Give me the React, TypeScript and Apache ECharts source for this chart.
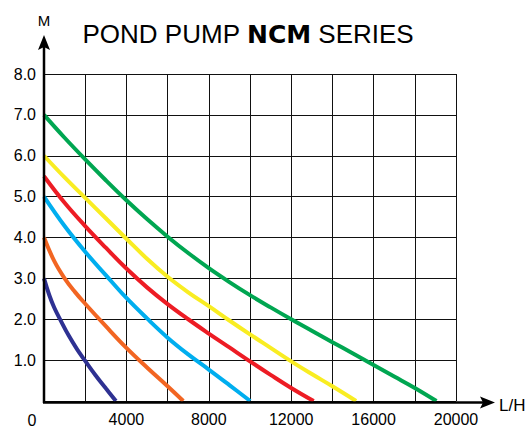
import React, { useEffect, useRef } from "react";
import * as echarts from "echarts";

const titleStart = "POND PUMP ";
const titleBold = "NCM";
const titleEnd = " SERIES";
const yName = "M";
const xName = "L/H";
const xZeroLabel = "0";

const navy: [number, number][] = [[0, 3.0], [250, 2.6], [500, 2.28], [800, 1.98], [1200, 1.6], [1600, 1.27], [2000, 0.98], [2500, 0.63], [3000, 0.31], [3490, 0]];
const orange: [number, number][] = [[0, 4.0], [500, 3.42], [1000, 3.0], [1500, 2.67], [2000, 2.38], [3000, 1.83], [4000, 1.3], [5000, 0.82], [6000, 0.36], [6760, 0]];
const blue: [number, number][] = [[0, 5.0], [1000, 4.28], [2000, 3.65], [3000, 3.08], [4000, 2.52], [5000, 2.02], [6000, 1.55], [7000, 1.14], [8000, 0.77], [9000, 0.39], [10010, 0]];
const red: [number, number][] = [[0, 5.5], [1000, 4.85], [2000, 4.28], [3000, 3.75], [4000, 3.24], [5000, 2.78], [6000, 2.37], [7000, 2.0], [8000, 1.65], [9000, 1.31], [10000, 0.97], [11000, 0.64], [12000, 0.32], [13090, 0]];
const yellow: [number, number][] = [[0, 6.0], [1000, 5.47], [2000, 4.97], [3000, 4.47], [4000, 3.97], [5000, 3.48], [6000, 3.04], [7000, 2.66], [8000, 2.32], [9000, 1.97], [10000, 1.63], [11000, 1.3], [12000, 0.97], [13000, 0.66], [14000, 0.36], [15150, 0]];
const green: [number, number][] = [[0, 7.0], [1000, 6.44], [2000, 5.91], [3000, 5.4], [4000, 4.91], [5000, 4.45], [6000, 4.02], [7000, 3.62], [8000, 3.25], [9000, 2.91], [10000, 2.59], [11000, 2.29], [12000, 2.0], [13000, 1.72], [14000, 1.44], [15000, 1.16], [16000, 0.88], [17000, 0.6], [18000, 0.32], [19050, 0]];

const seriesList = [
  { name: "navy", data: navy, color: "#2E3192" },
  { name: "orange", data: orange, color: "#F26522" },
  { name: "blue", data: blue, color: "#00AEEF" },
  { name: "red", data: red, color: "#ED1C24" },
  { name: "yellow", data: yellow, color: "#F9ED22" },
  { name: "green", data: green, color: "#00A651" },
];

const FONT = "'Liberation Sans', Arial, sans-serif";

export default function App() {
  const ref = useRef<HTMLDivElement>(null);
  useEffect(() => {
    if (!ref.current) return;
    const chart = echarts.init(ref.current, null, { renderer: "svg" });
    chart.setOption({
      animation: false,
      backgroundColor: "#fff",
      textStyle: { fontFamily: FONT },
      grid: { left: 44, right: 74, top: 74, bottom: 24 },
      xAxis: {
        type: "value",
        min: 0,
        max: 20000,
        interval: 2000,
        axisLine: { show: false },
        axisTick: { show: false },
        axisLabel: {
          color: "#000",
          fontSize: 16,
          fontFamily: FONT,
          margin: 10,
          showMaxLabel: true,
          formatter: (v: number) => (v === 0 || v % 4000 !== 0 ? "" : String(v)),
        },
        splitLine: { show: true, lineStyle: { color: "#111", width: 1 } },
      },
      yAxis: {
        type: "value",
        min: 0,
        max: 8,
        interval: 1,
        axisLine: { show: false },
        axisTick: { show: false },
        axisLabel: {
          color: "#000",
          fontSize: 16,
          fontFamily: FONT,
          margin: 8,
          formatter: (v: number) => (v === 0 ? "" : v.toFixed(1)),
        },
        splitLine: { show: true, lineStyle: { color: "#111", width: 1 } },
      },
      series: seriesList.map((s) => ({
        name: s.name,
        type: "line",
        data: s.data,
        smooth: 0.4,
        showSymbol: false,
        lineStyle: { color: s.color, width: 4 },
        z: 3,
      })),
      graphic: [
        { type: "line", shape: { x1: 44, y1: 403, x2: 44, y2: 46 }, style: { stroke: "#000", lineWidth: 2.5 }, z: 10 },
        { type: "polygon", shape: { points: [[44, 35], [50, 50], [44, 47], [38, 50]] }, style: { fill: "#000" }, z: 10 },
        { type: "line", shape: { x1: 43, y1: 402.5, x2: 484, y2: 402.5 }, style: { stroke: "#000", lineWidth: 2.5 }, z: 10 },
        { type: "polygon", shape: { points: [[495, 402.5], [480, 396.5], [483, 402.5], [480, 408.5]] }, style: { fill: "#000" }, z: 10 },
        { type: "text", x: 44, y: 20, style: { text: yName, fontSize: 15, fontFamily: FONT, fill: "#000", align: "center", verticalAlign: "middle" }, z: 10 },
        { type: "text", x: 499, y: 405, style: { text: xName, fontSize: 17, fontFamily: FONT, fill: "#000", align: "left", verticalAlign: "middle" }, z: 10 },
        { type: "text", x: 32, y: 420, style: { text: xZeroLabel, fontSize: 16, fontFamily: FONT, fill: "#000", align: "center", verticalAlign: "middle" }, z: 10 },
        {
          type: "text",
          x: 248,
          y: 34,
          style: {
            text: `{n|${titleStart}}{b|${titleBold}}{n|${titleEnd}}`,
            align: "center",
            verticalAlign: "middle",
            rich: {
              n: { fontSize: 26, fontFamily: FONT, fill: "#000", color: "#000" },
              b: { fontSize: 25, fontFamily: "'DejaVu Sans', sans-serif", fontWeight: "bold", fill: "#000", color: "#000" },
            },
          },
          z: 10,
        },
      ],
    });
    return () => chart.dispose();
  }, []);
  return <div ref={ref} style={{ position: "fixed", left: 0, top: 0, width: 530, height: 427 }} />;
}
